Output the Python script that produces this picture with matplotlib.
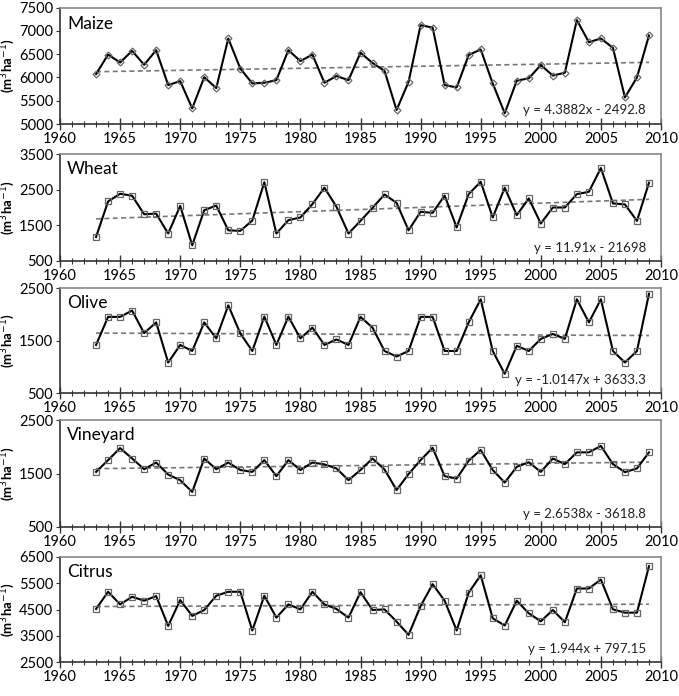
import numpy as np
import matplotlib
matplotlib.use("Agg")
import matplotlib.pyplot as plt
from matplotlib.ticker import MultipleLocator

plt.rcParams["font.family"] = ["Lato", "DejaVu Sans"]

years = list(range(1963, 2010))

maize = [6070, 6490, 6320, 6570, 6270, 6585, 5835, 5920, 5335, 6005,
         5770, 6835, 6190, 5870, 5885, 5940, 6585, 6350, 6490, 5885,
         6030, 5940, 6530, 6310, 6140, 5300, 5905, 7120, 7070, 5835,
         5785, 6480, 6600, 5870, 5230, 5930, 5980, 6265, 6040, 6100,
         7230, 6755, 6835, 6635, 5570, 6000, 6900]
wheat = [1175, 2170, 2385, 2330, 1810, 1830, 1270, 2045, 940, 1925,
         2055, 1360, 1345, 1635, 2710, 1270, 1645, 1720, 2095, 2555,
         2020, 1270, 1625, 1990, 2365, 2130, 1360, 1880, 1850, 2335,
         1440, 2375, 2720, 1720, 2555, 1785, 2255, 1550, 2000, 2000,
         2375, 2440, 3105, 2115, 2085, 1625, 2695]
olive = [1415, 1950, 1950, 2070, 1640, 1845, 1080, 1415, 1300, 1845,
         1540, 2170, 1635, 1300, 1955, 1415, 1955, 1540, 1745, 1415,
         1520, 1415, 1950, 1745, 1300, 1195, 1300, 1950, 1950, 1300,
         1300, 1845, 2285, 1300, 865, 1400, 1300, 1530, 1625, 1530,
         2285, 1845, 2285, 1300, 1080, 1300, 2390]
vineyard = [1530, 1750, 1975, 1780, 1580, 1705, 1480, 1375, 1155, 1780,
            1580, 1705, 1565, 1530, 1750, 1450, 1750, 1565, 1705, 1670,
            1595, 1375, 1565, 1780, 1575, 1190, 1490, 1750, 1980, 1450,
            1405, 1740, 1940, 1565, 1330, 1625, 1710, 1530, 1780, 1675,
            1895, 1895, 2015, 1675, 1525, 1595, 1895]
citrus = [4520, 5175, 4695, 4985, 4835, 5010, 3875, 4860, 4255, 4480,
          5025, 5175, 5175, 3700, 5025, 4190, 4695, 4505, 5175, 4695,
          4520, 4190, 5160, 4480, 4505, 4040, 3535, 4630, 5465, 4835,
          3700, 5140, 5805, 4165, 3890, 4835, 4355, 4050, 4480, 4015,
          5300, 5300, 5640, 4505, 4380, 4380, 6150]

names = ["Maize", "Wheat", "Olive", "Vineyard", "Citrus"]
series = [maize, wheat, olive, vineyard, citrus]
slopes = [4.3882, 11.91, -1.0147, 2.6538, 1.944]
intercepts = [-2492.8, -21698, 3633.3, -3618.8, 797.15]
equations = ["y = 4.3882x - 2492.8", "y = 11.91x - 21698",
             "y = -1.0147x + 3633.3", "y = 2.6538x - 3618.8",
             "y = 1.944x + 797.15"]
ylims = [(5000, 7500), (500, 3500), (500, 2500), (500, 2500), (2500, 6500)]
ysteps = [500, 1000, 1000, 1000, 1000]
markers = ["D", "s", "s", "s", "s"]

# axes boxes in pixels: (top, bottom)
W, H = 679, 696
boxes = [(7.5, 124), (154, 261), (288, 393), (420, 527), (557, 662)]
left, right = 60, 661

fig = plt.figure(figsize=(W / 100, H / 100), dpi=100)

for i in range(5):
    top, bot = boxes[i]
    ax = fig.add_axes([left / W, 1 - bot / H, (right - left) / W, (bot - top) / H])
    ms = 3.5 if markers[i] == "D" else 4.5
    ax.plot(years, series[i], color="black", linewidth=1.5, marker=markers[i],
            markersize=ms, markerfacecolor="none", markeredgecolor="#666666",
            markeredgewidth=0.9, zorder=3)
    tx = np.array([years[0], years[-1]])
    ax.plot(tx, slopes[i] * tx + intercepts[i], color="#777777", linewidth=1.2,
            linestyle=(0, (3, 2)), zorder=2)

    lo, hi = ylims[i]
    ax.set_xlim(1960, 2010)
    ax.set_ylim(lo, hi)
    ax.set_yticks(np.arange(lo, hi + 1, ysteps[i]))
    ax.xaxis.set_major_locator(MultipleLocator(5))
    ax.xaxis.set_minor_locator(MultipleLocator(1))
    ax.tick_params(axis="x", which="major", direction="inout", length=8,
                   width=1, labelsize=10.5, pad=2, color="#333333")
    ax.tick_params(axis="x", which="minor", direction="inout", length=5,
                   width=0.8, color="#333333")
    ax.tick_params(axis="y", which="major", direction="out", length=3,
                   labelsize=10.5, pad=2, color="#333333")

    for s in ["top", "right"]:
        ax.spines[s].set_color("#888888")
        ax.spines[s].set_linewidth(1.2)
    for s in ["left", "bottom"]:
        ax.spines[s].set_color("#333333")
        ax.spines[s].set_linewidth(1.2)

    ax.text(0.012, 0.93, names[i], transform=ax.transAxes, fontsize=12.5,
            ha="left", va="top")
    ax.text(0.975, 0.07, equations[i], transform=ax.transAxes, fontsize=9.5,
            ha="right", va="bottom", color="#222222")
    ax.set_ylabel("(m$^{3}$ha$^{-1}$)", fontsize=9.5, fontweight="bold")
    ax.yaxis.set_label_coords(-0.072, 0.5)

fig.savefig("out.png", dpi=100)
